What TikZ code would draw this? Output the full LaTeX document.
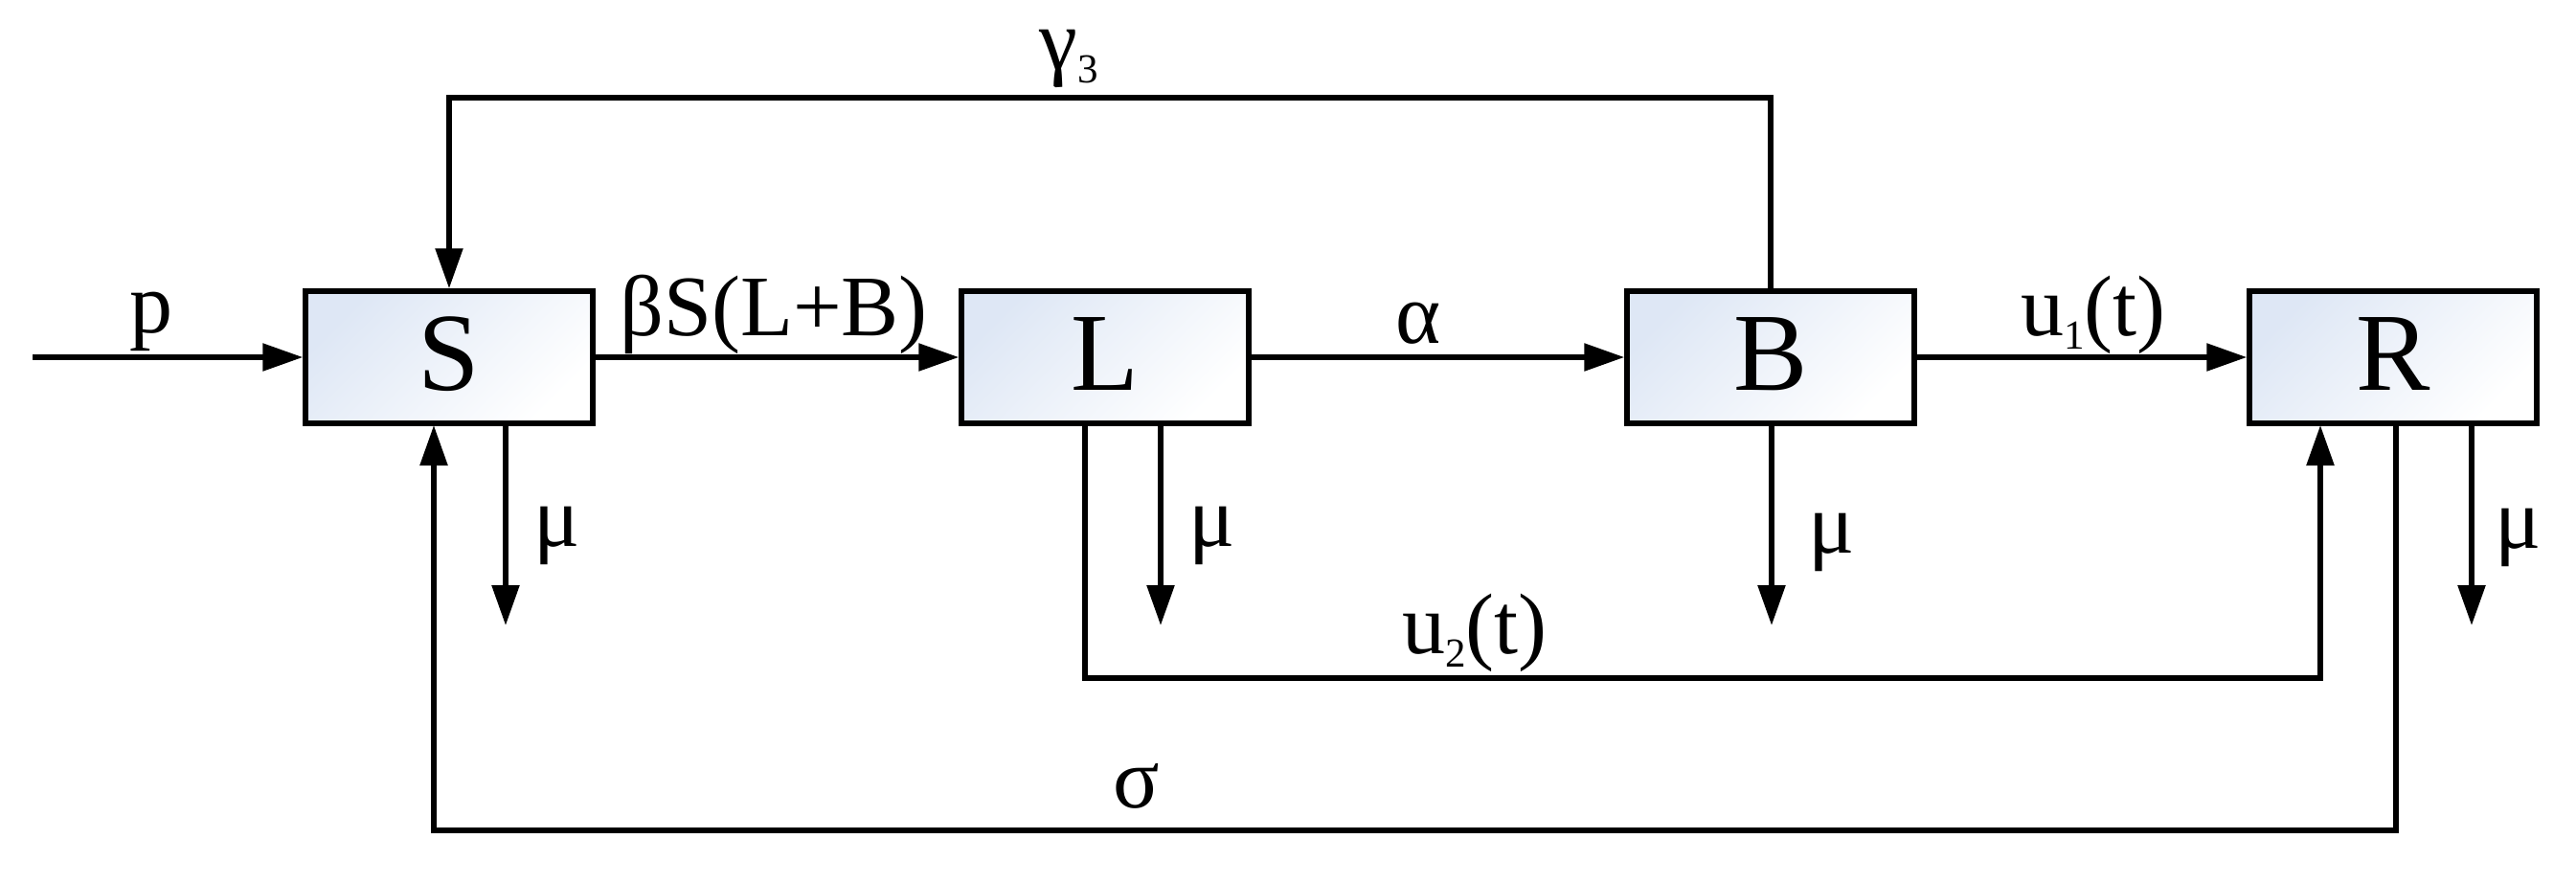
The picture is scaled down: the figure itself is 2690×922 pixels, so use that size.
\documentclass[tikz,border=0pt]{standalone}
\usepackage{fontspec}
\setmainfont{Liberation Serif}
\usetikzlibrary{arrows.meta,calc}
\definecolor{boxblue}{RGB}{222,231,245}
\newcommand{\lsub}[1]{\raisebox{-14pt}{\fontsize{43}{43}\selectfont #1}}
\begin{document}
\begin{tikzpicture}[x=1pt,y=-1pt,
  box/.style={draw=black, line width=5.5pt, minimum width=300pt, minimum height=138pt,
    inner sep=0pt, top color=boxblue, bottom color=white, shading angle=45,
    font=\fontsize{116}{116}\selectfont, text depth=0pt, text height=68pt},
  lab/.style={inner sep=0pt, anchor=base, font=\fontsize{90}{90}\selectfont},
  conn/.style={line width=5.5pt},
  tri/.style={line width=5.5pt, -{Triangle[length=42pt,width=28pt]}}]
\useasboundingbox (0,0) rectangle (2690,922);
% boxes
\node[box] (S) at (469,373) {S};
\node[box] (L) at (1154,373) {L};
\node[box] (B) at (1849,373) {B};
\node[box] (R) at (2499,373) {R};
% helper coordinates
\coordinate (pin) at (34,373);
\coordinate (gtop) at (0,102);
\coordinate (mubot) at (0,653);
\coordinate (u2y) at (0,708);
\coordinate (sigy) at (0,867);
\coordinate (Sup) at (453,444);
\coordinate (Smu) at (528,444);
\coordinate (Lln) at (1133,444);
\coordinate (Lmu) at (1212,444);
\coordinate (Bmu) at (1850,444);
\coordinate (Rup) at (2423,444);
\coordinate (Rln) at (2502,444);
\coordinate (Rmu) at (2581,444);
% main flow
\draw[tri] (pin) -- (S.west);
\draw[tri] (S.east) -- (L.west);
\draw[tri] (L.east) -- (B.west);
\draw[tri] (B.east) -- (R.west);
% gamma3 loop
\draw[tri] (B.north) -- (B.north |- gtop) -| (S.north);
% mu outflows
\draw[tri] (Smu) -- (Smu |- mubot);
\draw[tri] (Lmu) -- (Lmu |- mubot);
\draw[tri] (Bmu) -- (Bmu |- mubot);
\draw[tri] (Rmu) -- (Rmu |- mubot);
% u2 path L -> R
\draw[tri] (Lln) -- (Lln |- u2y) -| (Rup);
% sigma path R -> S
\draw[tri] (Rln) -- (Rln |- sigy) -| (Sup);
% labels
\node[lab] (lp) at (158,347) {p};
\node[lab] (lbeta) at (808,350) {βS(L+B)};
\node[lab] (lalpha) at (1481,358) {α};
\node[lab] (lu1) at (2186,350) {u\lsub{1}(t)};
\node[lab] (lgam) at (1116,72) {γ\lsub{3}};
\node[lab, anchor=base west] (mu1) at (557,570) {μ};
\node[lab, anchor=base west] (mu2) at (1241,570) {μ};
\node[lab, anchor=base west] (mu3) at (1888,577) {μ};
\node[lab, anchor=base west] (mu4) at (2605,572) {μ};
\node[lab] (lu2) at (1540,682) {u\lsub{2}(t)};
\node[lab] (lsig) at (1187,843) {σ};
\end{tikzpicture}
\end{document}
